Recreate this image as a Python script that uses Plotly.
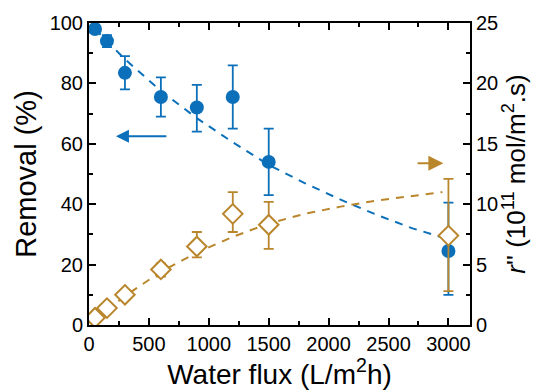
import plotly.graph_objects as go

# Data
flux = [50, 150, 300, 600, 900, 1200, 1500, 3000]
removal = [98, 94, 83.5, 75.5, 72, 75.5, 54, 24.5]
removal_err_plus = [0.8, 2, 5.5, 6.5, 7.5, 10.5, 11, 16]
removal_err_minus = [0.8, 2, 5.5, 6.5, 8, 10.5, 11, 14.5]

rate = [0.6, 1.4, 2.5, 4.6, 6.5, 9.2, 8.3, 7.4]
rate_err_plus = [0.2, 0.3, 0.4, 0.5, 1.2, 1.8, 1.9, 4.7]
rate_err_minus = [0.2, 0.3, 0.4, 0.6, 0.9, 1.5, 2.0, 4.6]

fit_x = [50, 300, 600, 900, 1200, 1500, 1800, 2100, 2400, 2700, 2950]
removal_fit = [98, 88, 77.5, 68.5, 60.5, 53, 47, 41.5, 36.5, 32, 29]
rate_fit = [0.4, 2.4, 4.4, 6.0, 7.3, 8.4, 9.2, 9.8, 10.3, 10.7, 11.0]

x_ticks = [0, 500, 1000, 1500, 2000, 2500, 3000]
y_ticks = [0, 20, 40, 60, 80, 100]
y2_ticks = [0, 5, 10, 15, 20, 25]

BLUE = "#0b70b9"
BROWN = "#b9862c"
FONT = "Arial, Liberation Sans, sans-serif"

fig = go.Figure()

fig.add_trace(go.Scatter(x=fit_x, y=removal_fit, mode="lines",
                         line=dict(color=BLUE, width=2, dash="8px,7px"),
                         showlegend=False, hoverinfo="skip"))
fig.add_trace(go.Scatter(x=fit_x, y=rate_fit, mode="lines", yaxis="y2",
                         line=dict(color=BROWN, width=2, dash="8px,7px"),
                         showlegend=False, hoverinfo="skip"))

fig.add_trace(go.Scatter(
    x=flux, y=removal, mode="markers",
    marker=dict(symbol="circle", size=14, color=BLUE),
    error_y=dict(type="data", symmetric=False, array=removal_err_plus,
                 arrayminus=removal_err_minus, color=BLUE, thickness=1.8, width=5),
    showlegend=False))

fig.add_trace(go.Scatter(
    x=flux, y=rate, mode="markers", yaxis="y2",
    marker=dict(symbol="diamond", size=15, color="white",
                line=dict(color=BROWN, width=2)),
    error_y=dict(type="data", symmetric=False, array=rate_err_plus,
                 arrayminus=rate_err_minus, color=BROWN, thickness=1.8, width=5),
    showlegend=False))

axis_common = dict(showline=True, linecolor="black", linewidth=2, ticks="inside",
                   tickcolor="black", tickwidth=2, ticklen=7, showgrid=False,
                   zeroline=False, tickfont=dict(family=FONT, size=20, color="black"))

fig.update_layout(
    width=541, height=390,
    margin=dict(l=89, r=71, t=21, b=65),
    plot_bgcolor="white", paper_bgcolor="white",
    font=dict(family=FONT, color="black"),
    xaxis=dict(range=[0, 3180], tickvals=x_ticks, mirror="ticks",
               minor=dict(ticks="inside", ticklen=4, tickwidth=2, tickcolor="black", dtick=250, tick0=0),
               title=dict(text="Water flux (L/m<sup>2</sup>h)", font=dict(size=28, family=FONT), standoff=2),
               **axis_common),
    yaxis=dict(range=[0, 100], tickvals=y_ticks,
               minor=dict(ticks="inside", ticklen=4, tickwidth=2, tickcolor="black", dtick=10, tick0=0),
               title=dict(text="Removal (%)", font=dict(size=29, family=FONT), standoff=4),
               **axis_common),
    yaxis2=dict(range=[0, 25], tickvals=y2_ticks, overlaying="y", side="right",
                minor=dict(ticks="inside", ticklen=4, tickwidth=2, tickcolor="black", dtick=2.5, tick0=0),
                title=dict(text="<i>r</i>'' (10<sup>11</sup> mol/m<sup>2</sup>.s)", font=dict(size=26, family=FONT), standoff=4),
                **axis_common),
)

fig.add_annotation(x=225, y=62.5, ax=658, ay=62.5, xref="x", yref="y", axref="x", ayref="y",
                   text="", showarrow=True, arrowhead=2, arrowsize=1.3, arrowwidth=2, arrowcolor=BLUE)
fig.add_annotation(x=2958, y=13.4, ax=2730, ay=13.4, xref="x", yref="y2", axref="x", ayref="y2",
                   text="", showarrow=True, arrowhead=2, arrowsize=1.5, arrowwidth=2, arrowcolor=BROWN)

fig.write_html("out.html")
